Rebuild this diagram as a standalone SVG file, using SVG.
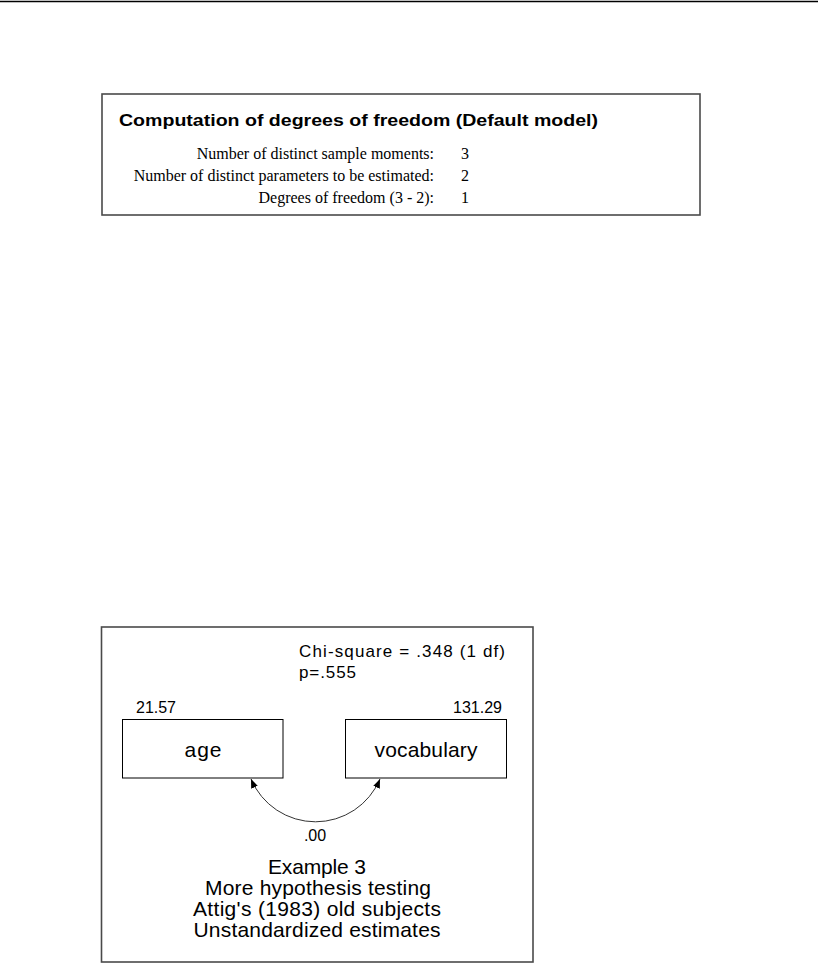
<svg xmlns="http://www.w3.org/2000/svg" width="818" height="968" viewBox="0 0 818 968">
<style>
.frame{fill:none;stroke:#4a4a4a;stroke-width:1.6}
.box{fill:#fff;stroke:#000;stroke-width:1}
.sans{font-family:"Liberation Sans",Arial,sans-serif;fill:#000}
.serif{font-family:"Liberation Serif","Times New Roman",serif;fill:#000;font-size:16px}
.conn{fill:none;stroke:#333;stroke-width:1}
</style>
<defs>
<marker id="ah" viewBox="0 0 10 10" refX="10" refY="5" markerWidth="9" markerHeight="9" markerUnits="userSpaceOnUse" orient="auto-start-reverse">
<path d="M0,1 L10,5 L0,9 z" fill="#000"/>
</marker>
</defs>
<rect width="818" height="968" fill="#fff"/>
<line x1="0" y1="1.5" x2="818" y2="1.5" stroke="#000" stroke-width="1.5"/>

<g id="df-table">
<rect class="frame" x="102" y="94" width="598" height="121"/>
<text class="sans" x="119" y="126" font-size="16" font-weight="bold" textLength="479" lengthAdjust="spacingAndGlyphs">Computation of degrees of freedom (Default model)</text>
<text class="serif" x="434" y="159" text-anchor="end">Number of distinct sample moments:</text>
<text class="serif" x="434" y="181" text-anchor="end">Number of distinct parameters to be estimated:</text>
<text class="serif" x="434" y="203" text-anchor="end">Degrees of freedom (3 - 2):</text>
<text class="serif" x="465" y="159" text-anchor="middle">3</text>
<text class="serif" x="465" y="181" text-anchor="middle">2</text>
<text class="serif" x="465" y="203" text-anchor="middle">1</text>
</g>

<g id="path-diagram">
<rect class="frame" x="101.5" y="627" width="431.5" height="335"/>
<text class="sans" x="299" y="657" font-size="17" textLength="206" lengthAdjust="spacing">Chi-square = .348 (1 df)</text>
<text class="sans" x="299" y="678" font-size="17" textLength="57" lengthAdjust="spacing">p=.555</text>
</g>

<g id="age">
<rect class="box" x="122.5" y="719.5" width="160.5" height="58.5"/>
<text class="sans" x="136" y="713" font-size="16" textLength="40" lengthAdjust="spacing">21.57</text>
<text class="sans" x="203" y="757" font-size="21" text-anchor="middle" textLength="37" lengthAdjust="spacing">age</text>
</g>

<g id="vocabulary">
<rect class="box" x="345.5" y="719.5" width="161" height="58.5"/>
<text class="sans" x="502" y="713" font-size="16" text-anchor="end">131.29</text>
<text class="sans" x="426" y="757" font-size="21" text-anchor="middle" textLength="103" lengthAdjust="spacing">vocabulary</text>
</g>

<g id="connectors">
<path class="conn" d="M251,779 A70,70 0 0 0 380,779" marker-start="url(#ah)" marker-end="url(#ah)"/>
<text class="sans" x="315" y="841" font-size="16" text-anchor="middle">.00</text>
</g>

<g id="caption">
<text class="sans" x="317" y="874" font-size="21" text-anchor="middle" textLength="98" lengthAdjust="spacing">Example 3</text>
<text class="sans" x="318" y="895" font-size="21" text-anchor="middle" textLength="226" lengthAdjust="spacing">More hypothesis testing</text>
<text class="sans" x="317" y="916" font-size="21" text-anchor="middle" textLength="248" lengthAdjust="spacing">Attig's (1983) old subjects</text>
<text class="sans" x="317" y="937" font-size="21" text-anchor="middle" textLength="247" lengthAdjust="spacing">Unstandardized estimates</text>
</g>
</svg>
